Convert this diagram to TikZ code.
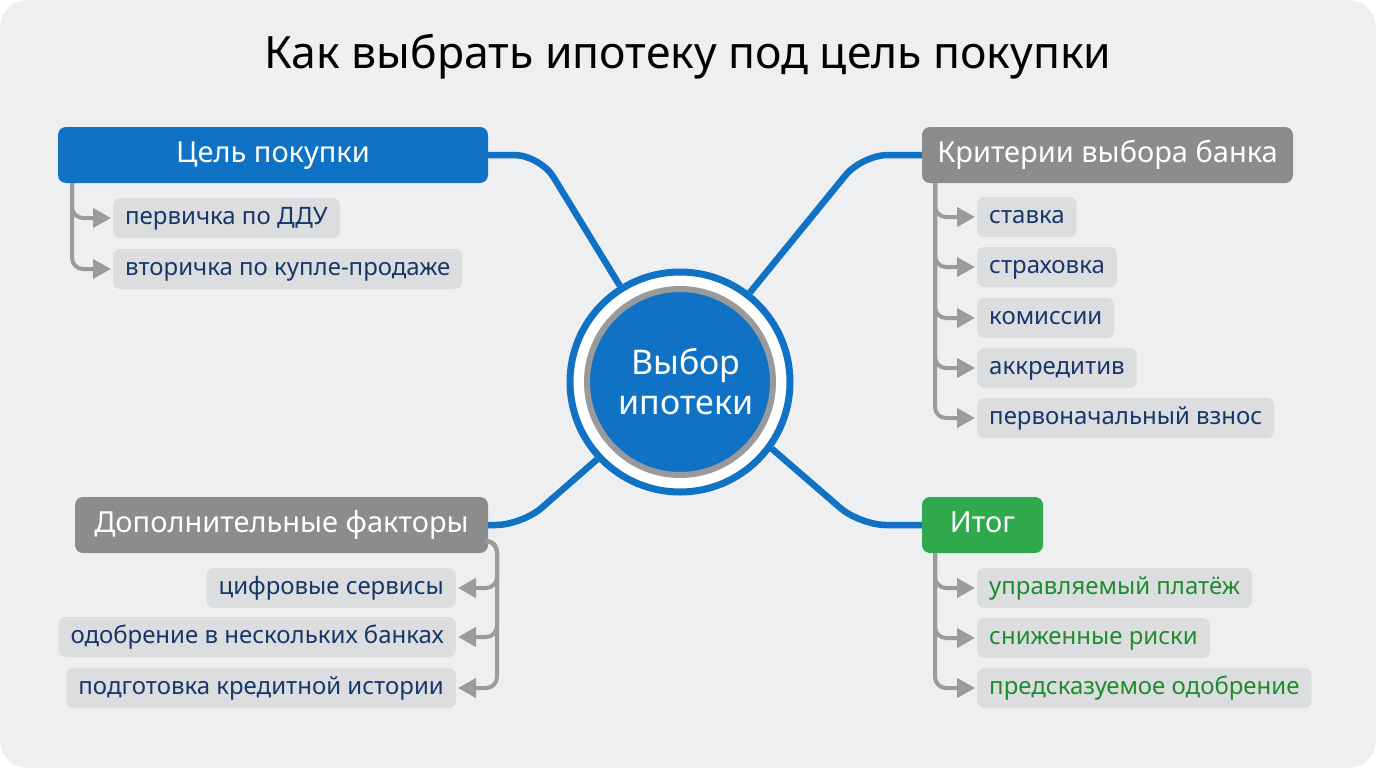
\documentclass[tikz,border=0pt]{standalone}
\usepackage{fontspec}
\setmainfont{Noto Sans}
\usetikzlibrary{arrows.meta,calc}
\definecolor{bgc}{HTML}{EEEFF1}
\definecolor{mblue}{HTML}{0F72C4}
\definecolor{hgray}{HTML}{8C8C8C}
\definecolor{pill}{HTML}{DCDDDF}
\definecolor{dtext}{HTML}{17376A}
\definecolor{mgreen}{HTML}{2FA94C}
\definecolor{gtext}{HTML}{1F8B2F}
\definecolor{lgray}{HTML}{9B9B9B}
\definecolor{ring}{HTML}{9A9A9A}
\tikzset{
  header/.style={rounded corners=8pt, minimum height=56pt, inner sep=0pt, text=white,
    text height=21pt, text depth=6pt, font=\fontsize{29}{32}\selectfont},
  pillbox/.style={fill=pill, rounded corners=7pt, minimum height=40pt, inner xsep=12pt, inner ysep=0pt,
    text height=17pt, text depth=5pt, text=dtext, font=\fontsize{24}{27}\selectfont},
  gpill/.style={pillbox, text=gtext},
  conn/.style={draw=mblue, line width=6.5pt, rounded corners=26pt},
  branch/.style={draw=lgray, line width=4pt, rounded corners=11pt,
    -{Triangle[length=18pt,width=19pt]}, shorten >=2pt},
}
\begin{document}
\begin{tikzpicture}[x=1pt,y=-1pt]
\useasboundingbox (0,0) rectangle (1376,768);
\fill[white] (0,0) rectangle (1376,768);
\fill[bgc, rounded corners=28pt] (0,0) rectangle (1376,768);

\node[font=\fontsize{44.5}{50}\selectfont, text=black] (title) at (688,57) {Как выбрать ипотеку под цель покупки};

% center
\node[circle, draw=mblue, line width=7pt, fill=white, minimum size=220pt, inner sep=0pt] (c) at (680,382) {};
\node[circle, draw=ring, line width=6pt, fill=mblue, minimum size=186pt, inner sep=0pt] (ci) at (680,382) {};
\node[text=white, align=center, font=\fontsize{34}{40}\selectfont] (ct) at (686,382) {Выбор\\ипотеки};

% headers
\node[header, fill=mblue, minimum width=430pt] (cel) at (273,155) {Цель покупки};
\node[header, fill=hgray, minimum width=371pt] (krit) at (1107.5,155) {Критерии выбора банка};
\node[header, fill=hgray, minimum width=413pt] (dop) at (281.5,525) {Дополнительные факторы};
\node[header, fill=mgreen, minimum width=121pt] (itog) at (982.5,525) {Итог};

% connectors
\draw[conn] (cel.east) -- (540,155) -- (c.122);
\draw[conn] (krit.west) -- (862,155) -- (c.52);
\draw[conn] (dop.east) -- (522,525) -- (c.223);
\draw[conn] (itog.west) -- (860,525) -- (c.324);

% children: Цель покупки
\node[pillbox, anchor=west] (p1) at (113,218) {первичка по ДДУ};
\node[pillbox, anchor=west] (p2) at (113,269) {вторичка по купле-продаже};
\coordinate (tl) at (72,183);
\draw[branch] (tl) |- (p1.west);
\draw[branch] (tl) |- (p2.west);

% children: Критерии
\node[pillbox, anchor=west] (k1) at (977,217) {ставка};
\node[pillbox, anchor=west] (k2) at (977,267) {страховка};
\node[pillbox, anchor=west] (k3) at (977,318) {комиссии};
\node[pillbox, anchor=west] (k4) at (977,368) {аккредитив};
\node[pillbox, anchor=west] (k5) at (977,418) {первоначальный взнос};
\coordinate (tr) at (935,183);
\foreach \k in {k1,k2,k3,k4,k5} \draw[branch] (tr) |- (\k.west);

% children: Итог
\node[gpill, anchor=west] (i1) at (977,588) {управляемый платёж};
\node[gpill, anchor=west] (i2) at (977,638) {сниженные риски};
\node[gpill, anchor=west] (i3) at (977,688) {предсказуемое одобрение};
\coordinate (br) at (935,553);
\foreach \k in {i1,i2,i3} \draw[branch] (br) |- (\k.west);

% children: Дополнительные
\node[pillbox, anchor=east] (d1) at (456,588) {цифровые сервисы};
\node[pillbox, anchor=east] (d2) at (456,637) {одобрение в нескольких банках};
\node[pillbox, anchor=east] (d3) at (456,688) {подготовка кредитной истории};
\coordinate (bl) at (486,541);
\coordinate (blx) at (497,541);
\foreach \k in {d1,d2,d3} \draw[branch] (bl) -- (blx) |- (\k.east);
\end{tikzpicture}
\end{document}
